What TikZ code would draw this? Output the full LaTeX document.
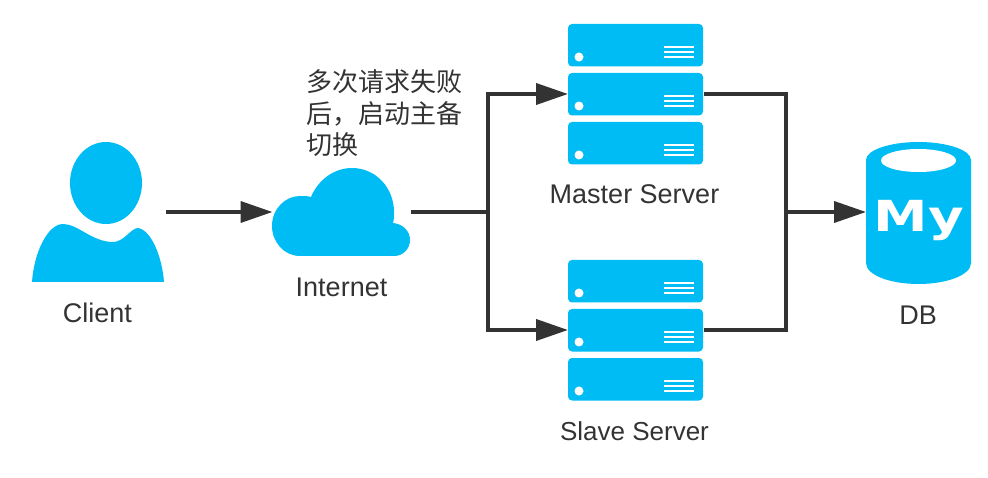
\documentclass[tikz,border=0pt]{standalone}
\usepackage{fontspec}
\setmainfont{Liberation Sans}
\newfontfamily\cjkfont{Noto Sans CJK SC}
\newfontfamily\badgefont{DejaVu Sans}[BoldFont={DejaVu Sans Bold}]
\usetikzlibrary{arrows.meta}
\definecolor{iconblue}{HTML}{00BCF5}
\definecolor{inkdark}{HTML}{333333}
\tikzset{
  label text/.style={text=inkdark,font=\fontsize{27}{30}\selectfont,inner sep=0pt,anchor=center},
  note text/.style={text=inkdark,font=\cjkfont\fontsize{26}{31.5}\selectfont,inner sep=0pt,align=left,anchor=north west},
  icon box/.style={inner sep=0pt,outer sep=0pt,draw=none,minimum width=#1},
  rack/.style={fill=iconblue,rounded corners=4pt},
  wire/.style={draw=inkdark,line width=3.8pt,line cap=butt,line join=miter},
  arrow wire/.style={wire,-{Triangle[length=32pt,width=21pt]}},
  rack line/.style={draw=white,line width=2pt}
}
\newcommand{\rackunit}[1]{%
  \fill[rack] (568,#1) rectangle ++(135,42.5);
  \fill[white] (579,#1+33) circle (4.5);
  \foreach \dy in {23,28,33}{\draw[rack line] (664,#1+\dy) -- (694,#1+\dy);}
}
\begin{document}
\begin{tikzpicture}[x=1pt,y=-1pt]
\useasboundingbox (0,0) rectangle (988,478);
% client
\fill[iconblue] (106,183) ellipse [x radius=36,y radius=41];
\fill[iconblue] (32,282) .. controls (34,252) and (48,224) .. (63,224)
  .. controls (78,224) and (92,242) .. (113,242)
  .. controls (124,242) and (131,228) .. (138,228)
  .. controls (151,230) and (162,256) .. (164,282) -- cycle;
\node[icon box=132pt,minimum height=140pt] (client) at (98,212) {};
\node[label text] (clientlabel) at (97.5,313) {Client};
% cloud
\fill[iconblue] (300,256) .. controls (284,256) and (272,242) .. (272,226)
  .. controls (272,209) and (285,196) .. (300,196)
  .. controls (304,196) and (308,196) .. (311,197)
  .. controls (318,180) and (334,168) .. (352,168)
  .. controls (376,168) and (394,188) .. (394,212)
  .. controls (394,216) and (394,220) .. (393,223)
  .. controls (403,224) and (410,231) .. (410,240)
  .. controls (410,249) and (403,256) .. (394,256) -- cycle;
\node[icon box=138pt,minimum height=88pt] (cloud) at (341.5,212) {};
\node[label text] (cloudlabel) at (341.5,287) {Internet};
\node[note text] (note) at (306.5,69.5) {多次请求失败\\后，启动主备\\切换};
% master server
\rackunit{24}
\rackunit{73}
\rackunit{122}
\node[icon box=135pt,minimum height=42pt] (master) at (635.5,94) {};
\node[label text] (masterlabel) at (634.5,194) {Master Server};
% slave server
\rackunit{260}
\rackunit{309}
\rackunit{358}
\node[icon box=135pt,minimum height=42pt] (slave) at (635.5,330) {};
\node[label text,font=\fontsize{26}{30}\selectfont] (slavelabel) at (634.5,431) {Slave Server};
% database
\fill[iconblue] (866,160) .. controls (866,150) and (890,142) .. (918.5,142)
  .. controls (947,142) and (971,150) .. (971,160)
  -- (971,263) .. controls (971,275) and (947,284) .. (918.5,284)
  .. controls (890,284) and (866,275) .. (866,263) -- cycle;
\fill[white] (918.5,160.5) ellipse [x radius=37.5,y radius=11.5];
\node[inner sep=0pt,text=white,xscale=1.19,yscale=0.93,font=\badgefont\bfseries\fontsize{46}{46}\selectfont] (mylogo) at (919,221) {My};
\node[icon box=105pt,minimum height=142pt] (db) at (918.5,212) {};
\node[label text] (dblabel) at (918,315) {DB};
% connectors
\coordinate (split) at (488,212);
\coordinate (merge) at (786,212);
\draw[arrow wire] ([xshift=2pt]client.east) -- (cloud.west);
\draw[wire] (cloud.east) -- (split);
\draw[arrow wire] (split) |- (master.west);
\draw[arrow wire] (split) |- (slave.west);
\draw[wire] ([xshift=1pt]master.east) -| (merge);
\draw[wire] ([xshift=1pt]slave.east) -| (merge);
\draw[arrow wire] (merge) -- (db.west);
\end{tikzpicture}
\end{document}
